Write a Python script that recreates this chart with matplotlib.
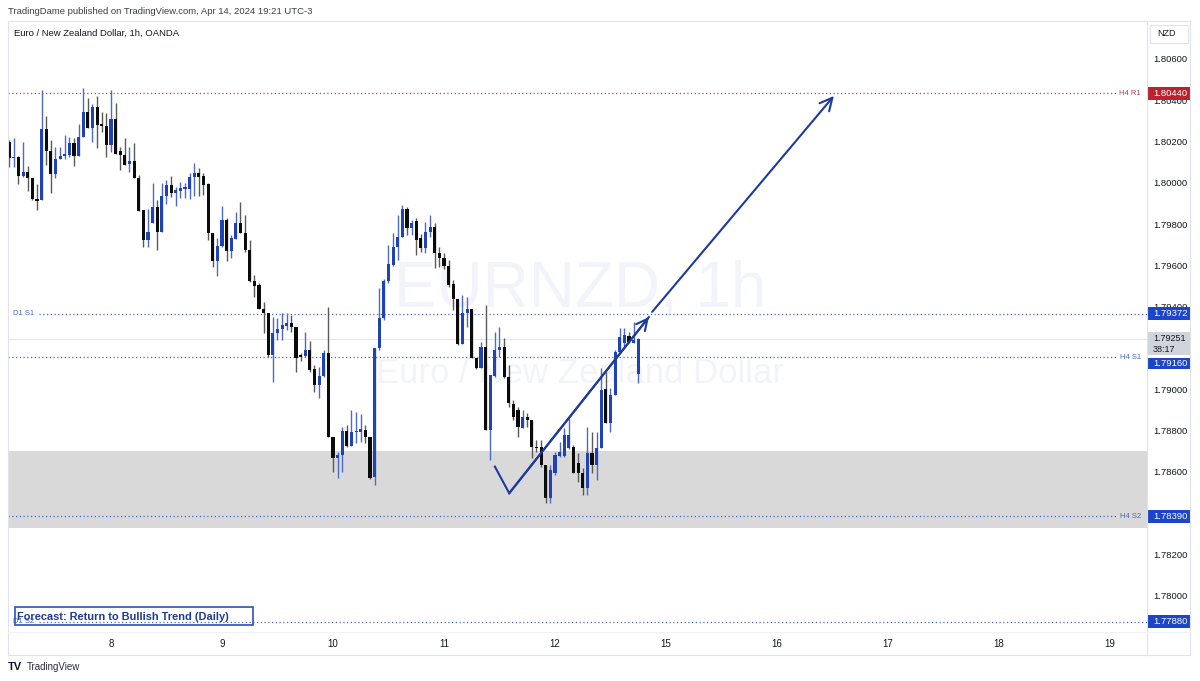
import numpy as np
import matplotlib
matplotlib.use("Agg")
import matplotlib.pyplot as plt
from matplotlib.patches import Rectangle
from matplotlib.lines import Line2D

plt.rcParams['font.family'] = ['Liberation Sans', 'DejaVu Sans']

# ---------------- data (EUR/NZD, 1h candles) ----------------
opens = [1.80203, 1.80125, 1.80130, 1.80038, 1.80058, 1.80029, 1.79927, 1.79922, 1.80266, 1.80159,
         1.80048, 1.80121, 1.80135, 1.80140, 1.80198, 1.80135, 1.80227, 1.80348, 1.80271, 1.80372,
         1.80290, 1.80280, 1.80188, 1.80314, 1.80159, 1.80140, 1.80096, 1.80111, 1.80029, 1.79874,
         1.79728, 1.79811, 1.79888, 1.79767, 1.79941, 1.79995, 1.79956, 1.79966, 1.79975, 1.79975,
         1.80033, 1.80053, 1.80038, 1.79999, 1.79762, 1.79627, 1.79699, 1.79825, 1.79675, 1.79733,
         1.79811, 1.79762, 1.79680, 1.79530, 1.79510, 1.79394, 1.79375, 1.79171, 1.79278, 1.79297,
         1.79312, 1.79326, 1.79307, 1.79171, 1.79167, 1.79196, 1.79104, 1.79026, 1.79070, 1.79181,
         1.78774, 1.78673, 1.78687, 1.78803, 1.78731, 1.78798, 1.78798, 1.78808, 1.78774, 1.78581,
         1.79205, 1.79350, 1.79530, 1.79607, 1.79694, 1.79743, 1.79878, 1.79786, 1.79820, 1.79738,
         1.79690, 1.79767, 1.79791, 1.79665, 1.79641, 1.79602, 1.79515, 1.79443, 1.79225, 1.79375,
         1.79394, 1.79157, 1.79108, 1.79210, 1.78808, 1.79070, 1.79196, 1.79210, 1.79065, 1.78934,
         1.78905, 1.78818, 1.78871, 1.78857, 1.78726, 1.78726, 1.78639, 1.78479, 1.78600, 1.78682,
         1.78682, 1.78721, 1.78726, 1.78648, 1.78600, 1.78527, 1.78697, 1.78639, 1.78721, 1.79007,
         1.78842, 1.78978, 1.79186, 1.79229, 1.79263, 1.79229, 1.79079]
highs = [1.80213, 1.80222, 1.80135, 1.80203, 1.80087, 1.80029, 1.79999, 1.80455, 1.80329, 1.80213,
         1.80179, 1.80179, 1.80237, 1.80227, 1.80222, 1.80290, 1.80465, 1.80416, 1.80387, 1.80426,
         1.80348, 1.80343, 1.80455, 1.80392, 1.80179, 1.80222, 1.80179, 1.80198, 1.80043, 1.79874,
         1.79878, 1.80004, 1.79922, 1.80004, 1.80019, 1.80038, 1.79985, 1.80009, 1.80004, 1.80053,
         1.80101, 1.80077, 1.80053, 1.80004, 1.79762, 1.79738, 1.79893, 1.79835, 1.79753, 1.79864,
         1.79912, 1.79849, 1.79728, 1.79559, 1.79520, 1.79428, 1.79375, 1.79355, 1.79350, 1.79375,
         1.79375, 1.79365, 1.79307, 1.79181, 1.79283, 1.79239, 1.79123, 1.79113, 1.79196, 1.79404,
         1.78774, 1.78702, 1.78823, 1.78832, 1.78905, 1.78895, 1.78886, 1.78832, 1.78774, 1.79205,
         1.79496, 1.79539, 1.79704, 1.79762, 1.79849, 1.79898, 1.79888, 1.79825, 1.79835, 1.79757,
         1.79815, 1.79849, 1.79811, 1.79694, 1.79665, 1.79631, 1.79535, 1.79443, 1.79462, 1.79452,
         1.79394, 1.79157, 1.79234, 1.79413, 1.79075, 1.79283, 1.79307, 1.79254, 1.79123, 1.78953,
         1.78920, 1.78905, 1.78890, 1.78857, 1.78760, 1.78760, 1.78639, 1.78639, 1.78702, 1.78750,
         1.78818, 1.78866, 1.78736, 1.78697, 1.78624, 1.78823, 1.78798, 1.78798, 1.79108, 1.79089,
         1.79011, 1.79196, 1.79302, 1.79302, 1.79283, 1.79331, 1.79254]
lows = [1.80082, 1.80082, 1.79999, 1.80033, 1.79966, 1.79922, 1.79874, 1.79922, 1.80092, 1.79956,
        1.80029, 1.80121, 1.80121, 1.80130, 1.80087, 1.80135, 1.80227, 1.80271, 1.80203, 1.80174,
        1.80251, 1.80130, 1.80154, 1.80145, 1.80067, 1.80092, 1.80058, 1.80029, 1.79869, 1.79694,
        1.79694, 1.79811, 1.79680, 1.79767, 1.79903, 1.79937, 1.79893, 1.79932, 1.79932, 1.79927,
        1.79941, 1.79941, 1.79946, 1.79728, 1.79598, 1.79554, 1.79694, 1.79627, 1.79641, 1.79733,
        1.79762, 1.79670, 1.79525, 1.79452, 1.79394, 1.79278, 1.79162, 1.79041, 1.79244, 1.79244,
        1.79292, 1.79283, 1.79089, 1.79142, 1.79162, 1.79089, 1.78992, 1.78963, 1.79065, 1.78774,
        1.78605, 1.78576, 1.78605, 1.78726, 1.78731, 1.78745, 1.78750, 1.78745, 1.78571, 1.78542,
        1.79196, 1.79341, 1.79520, 1.79602, 1.79631, 1.79743, 1.79753, 1.79753, 1.79656, 1.79670,
        1.79665, 1.79743, 1.79593, 1.79598, 1.79588, 1.79501, 1.79389, 1.79220, 1.79225, 1.79307,
        1.79157, 1.79104, 1.79108, 1.78808, 1.78663, 1.79065, 1.79162, 1.79061, 1.78920, 1.78857,
        1.78774, 1.78818, 1.78823, 1.78673, 1.78702, 1.78629, 1.78455, 1.78455, 1.78590, 1.78677,
        1.78677, 1.78716, 1.78600, 1.78556, 1.78493, 1.78493, 1.78600, 1.78566, 1.78721, 1.78842,
        1.78798, 1.78978, 1.79181, 1.79210, 1.79229, 1.79229, 1.79036]
closes = [1.80125, 1.80130, 1.80038, 1.80058, 1.80029, 1.79927, 1.79917, 1.80266, 1.80159, 1.80048,
          1.80121, 1.80135, 1.80145, 1.80198, 1.80135, 1.80227, 1.80348, 1.80271, 1.80372, 1.80285,
          1.80280, 1.80188, 1.80314, 1.80145, 1.80140, 1.80092, 1.80111, 1.80029, 1.79869, 1.79728,
          1.79767, 1.79888, 1.79767, 1.79941, 1.79995, 1.79956, 1.79970, 1.79980, 1.79985, 1.80033,
          1.80053, 1.80033, 1.79995, 1.79762, 1.79627, 1.79699, 1.79825, 1.79675, 1.79738, 1.79811,
          1.79762, 1.79680, 1.79530, 1.79506, 1.79394, 1.79375, 1.79171, 1.79278, 1.79297, 1.79317,
          1.79326, 1.79307, 1.79157, 1.79162, 1.79196, 1.79099, 1.79026, 1.79070, 1.79181, 1.78774,
          1.78673, 1.78687, 1.78803, 1.78731, 1.78798, 1.78803, 1.78813, 1.78774, 1.78576, 1.79205,
          1.79350, 1.79530, 1.79612, 1.79694, 1.79743, 1.79878, 1.79786, 1.79811, 1.79728, 1.79690,
          1.79767, 1.79791, 1.79665, 1.79641, 1.79602, 1.79510, 1.79443, 1.79225, 1.79375, 1.79394,
          1.79157, 1.79108, 1.79210, 1.78808, 1.79075, 1.79196, 1.79210, 1.79065, 1.78939, 1.78871,
          1.78823, 1.78871, 1.78857, 1.78726, 1.78721, 1.78639, 1.78479, 1.78614, 1.78687, 1.78702,
          1.78784, 1.78784, 1.78600, 1.78600, 1.78527, 1.78697, 1.78639, 1.78721, 1.79002, 1.78842,
          1.78978, 1.79186, 1.79259, 1.79268, 1.79234, 1.79244, 1.79251]

day_labels = ['8', '9', '10', '11', '12', '15', '16', '17', '18', '19']
day_start_index = [22, 46, 70, 94, 118, 142, 166, 190, 214, 238]

# price-scale labels (1.78400 and 1.79200 sit fully under the price tags)
price_ticks = [1.780, 1.782, 1.786, 1.788, 1.790, 1.794,
               1.796, 1.798, 1.800, 1.802, 1.804, 1.806]

# pivot levels
level_prices = [1.80440, 1.79372, 1.79160, 1.78390, 1.77880]
level_names = ['H4 R1', 'D1 S1', 'H4 S1', 'H4 S2', 'D1 S2']
level_sides = ['right', 'left', 'right', 'right', 'left']
level_kinds = ['red', 'blue', 'blue', 'blue', 'blue']

zone_top, zone_bottom = 1.78707, 1.78334
last_price = 1.79251
countdown = '38:17'

# drawn annotation (V shape + projection), in (bar index, price)
v_path_x = [105.0, 108.1, 138.3]
v_path_y = [1.78631, 1.78502, 1.79355]
proj_x = [139.0, 178.3]
proj_y = [1.79380, 1.80426]

# ---------------- style ----------------
BULL = '#1f43b5'
BULL_WICK = '#4d69c9'
BEAR = '#0b0b0b'
BEAR_WICK = '#5a5a5a'
BLUE_LVL = '#4a66c4'
RED_LVL = '#c0404c'
BOX_BLUE = '#1c45c9'
BOX_RED = '#b8232f'
TXT = '#131722'
FRAME = '#e0e3eb'
DRAW = '#1d3b9c'

W, H = 1200, 681
def fx(px):
    return px / W
def fy(py):
    return 1 - py / H

fig = plt.figure(figsize=(12, 6.81), dpi=100)
fig.patch.set_facecolor('white')

PLOT_L, PLOT_R, PLOT_T, PLOT_B = 8, 1147, 22, 632
ax = fig.add_axes([fx(PLOT_L), fy(PLOT_B), fx(PLOT_R) - fx(PLOT_L), fy(PLOT_T) - fy(PLOT_B)])
YMIN, YMAX = 1.77830, 1.80784
ax.set_ylim(YMIN, YMAX)
ax.set_xlim(-0.27, 246.0)
ppx = (YMAX - YMIN) / (PLOT_B - PLOT_T)  # price per pixel
for s in ax.spines.values():
    s.set_visible(False)
ax.set_yticks([])
ax.set_xticks(day_start_index)
ax.set_xticklabels(day_labels, fontsize=7, color=TXT)
ax.tick_params(axis='x', length=0, pad=5)

# zone
ax.axhspan(zone_bottom, zone_top, color='#d9d9d9', zorder=0, lw=0)

# watermark
ax.text(0.502, 0.561, 'EURNZD, 1h', transform=ax.transAxes, ha='center', va='center',
        fontsize=46, color='#f3f4f9', zorder=0)
ax.text(0.502, 0.424, 'Euro / New Zealand Dollar', transform=ax.transAxes, ha='center',
        va='center', fontsize=25, color='#f3f4f9', zorder=0)

# current price line
ax.axhline(last_price, color='#e3e5ea', lw=0.8, zorder=0.5)

# levels
for p, name, side, kind in zip(level_prices, level_names, level_sides, level_kinds):
    col = RED_LVL if kind == 'red' else BLUE_LVL
    if side == 'right':
        xmin, xmax = 0.0, 0.9725
        ax.text(0.9945, p, name, transform=ax.get_yaxis_transform(), ha='right',
                va='center', fontsize=5.5, color=col, zorder=3)
    else:
        xmin, xmax = 0.027, 1.0
        ax.text(0.004, p, name, transform=ax.get_yaxis_transform(), ha='left',
                va='center', fontsize=5.5, color=col, zorder=3)
    ax.axhline(p, xmin=xmin, xmax=xmax, color=col, lw=0.9, ls=(0, (1, 2)), zorder=1)

# candles
o = np.array(opens); h = np.array(highs); l = np.array(lows); c = np.array(closes)
x = np.arange(len(o))
up = c >= o
lo = np.minimum(o, c)
bh = np.maximum(np.abs(c - o), 1.1 * ppx)
ax.vlines(x[up], l[up], h[up], color=BULL_WICK, lw=1.0, zorder=2)
ax.vlines(x[~up], l[~up], h[~up], color=BEAR_WICK, lw=1.0, zorder=2)
ax.bar(x[up], bh[up], bottom=lo[up], width=0.7, color=BULL, lw=0, zorder=3)
ax.bar(x[~up], bh[~up], bottom=lo[~up], width=0.7, color=BEAR, lw=0, zorder=3)

# hand drawings
ax.plot(v_path_x, v_path_y, color=DRAW, lw=1.5, zorder=4, solid_joinstyle='miter')
ax.annotate('', xy=(v_path_x[-1], v_path_y[-1]), xytext=(v_path_x[-2], v_path_y[-2]),
            arrowprops=dict(arrowstyle='->,head_length=0.8,head_width=0.4', color=DRAW,
                            lw=1.5, shrinkA=0, shrinkB=0), zorder=4)
ax.annotate('', xy=(proj_x[1], proj_y[1]), xytext=(proj_x[0], proj_y[0]),
            arrowprops=dict(arrowstyle='->,head_length=0.9,head_width=0.45', color=DRAW,
                            lw=1.5, shrinkA=0, shrinkB=0), zorder=4)

# forecast box
fig.add_artist(Rectangle((fx(15), fy(625)), fx(253) - fx(15), fy(607) - fy(625),
                         transform=fig.transFigure, fill=False, ec='#2d4fb8', lw=1.2, zorder=5))
fig.text(fx(17), fy(616.5), 'Forecast: Return to Bullish Trend (Daily)', ha='left', va='center',
         fontsize=7.9, color='#1f3a94', fontweight='bold', zorder=6)

# ---------------- price axis ----------------
ax2 = fig.add_axes([fx(PLOT_R), fy(PLOT_B), fx(1190) - fx(PLOT_R), fy(PLOT_T) - fy(PLOT_B)])
ax2.set_ylim(YMIN, YMAX)
ax2.set_xlim(0, 43)
ax2.axis('off')
for t in price_ticks:
    ax2.text(6, t, f'{t:.5f}', ha='left', va='center', fontsize=6.8, color=TXT)

def price_box(p, txt, fc, tc='white', off_px=0.0, hpx=13):
    cy = p - off_px * ppx
    ax2.add_patch(Rectangle((0, cy - hpx / 2 * ppx), 43, hpx * ppx, fc=fc, ec='none',
                            zorder=4, clip_on=False))
    ax2.text(6, cy, txt, ha='left', va='center', fontsize=6.8, color=tc, zorder=5)

price_box(level_prices[0], f'{level_prices[0]:.5f}', BOX_RED)
price_box(level_prices[1], f'{level_prices[1]:.5f}', BOX_BLUE)
# current price (grey, two lines)
gtop = last_price + 6.5 * ppx
ax2.add_patch(Rectangle((0, gtop - 23 * ppx), 43, 23 * ppx, fc='#d1d4dc', ec='none', zorder=4,
                        clip_on=False))
ax2.text(6, last_price + 0.5 * ppx, f'{last_price:.5f}', ha='left', va='center', fontsize=6.5,
         color=TXT, zorder=5)
ax2.text(6, last_price - 10.5 * ppx, countdown, ha='left', va='center', fontsize=6.5,
         color=TXT, zorder=5)
price_box(level_prices[2], f'{level_prices[2]:.5f}', BOX_BLUE, off_px=6, hpx=11)
price_box(level_prices[3], f'{level_prices[3]:.5f}', BOX_BLUE)
price_box(level_prices[4], f'{level_prices[4]:.5f}', BOX_BLUE)

# currency box
fig.add_artist(Rectangle((fx(1150), fy(43)), fx(1188) - fx(1150), fy(25) - fy(43),
                         transform=fig.transFigure, fill=False, ec=FRAME, lw=0.8))
fig.text(fx(1157), fy(34), 'NZD', ha='left', va='center', fontsize=6.5, color=TXT)

# ---------------- frame ----------------
def fline(x0, y0, x1, y1, col=FRAME, lw=0.8):
    fig.add_artist(Line2D([fx(x0), fx(x1)], [fy(y0), fy(y1)], color=col, lw=lw))

fline(8, 21, 1190, 21)
fline(8, 655, 1190, 655)
fline(8, 21, 8, 655)
fline(1190, 21, 1190, 655)
fline(1147, 21, 1147, 655)
fline(8, 632, 1190, 632, col='#f0f2f5')

# header / footer texts
fig.text(fx(8), fy(12), 'TradingDame published on TradingView.com, Apr 14, 2024 19:21 UTC-3',
         ha='left', va='center', fontsize=6.8, color='#3a3e4a')
fig.text(fx(14), fy(33), 'Euro / New Zealand Dollar, 1h, OANDA', ha='left', va='center',
         fontsize=6.8, color=TXT)
fig.text(fx(8), fy(667), 'TV', ha='left', va='center', fontsize=8, color='#131722',
         fontweight='bold')
fig.text(fx(27), fy(667), 'TradingView', ha='left', va='center', fontsize=7, color='#2a2e39')

fig.savefig('out.png', dpi=100, facecolor='white')
